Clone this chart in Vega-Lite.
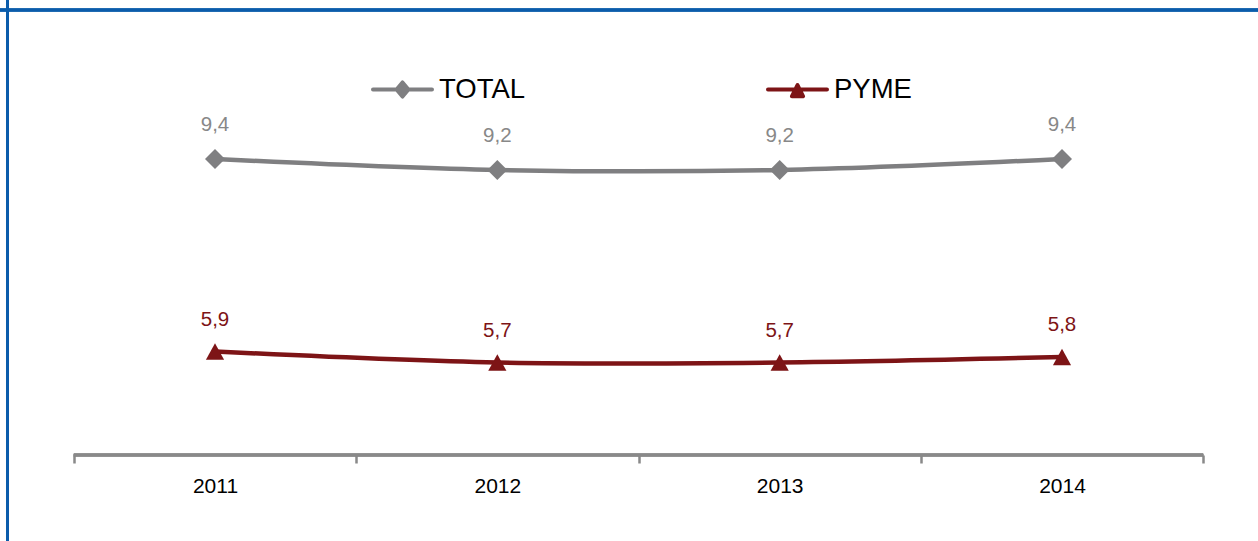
{
  "$schema": "https://vega.github.io/schema/vega-lite/v6.json",
  "width": 1258,
  "height": 455,
  "autosize": {"type": "none"},
  "padding": {"left": 0, "top": 0, "right": 0, "bottom": 86},
  "background": "white",
  "config": {
    "view": {"stroke": null},
    "locale": {"number": {"decimal": ",", "thousands": ".", "grouping": [3], "currency": ["", " €"]}},
    "font": "Liberation Sans"
  },
  "data": {
    "values": [
      {"year": 2011, "serie": "TOTAL", "value": 9.4},
      {"year": 2012, "serie": "TOTAL", "value": 9.2},
      {"year": 2013, "serie": "TOTAL", "value": 9.2},
      {"year": 2014, "serie": "TOTAL", "value": 9.4},
      {"year": 2011, "serie": "PYME", "value": 5.9},
      {"year": 2012, "serie": "PYME", "value": 5.7},
      {"year": 2013, "serie": "PYME", "value": 5.7},
      {"year": 2014, "serie": "PYME", "value": 5.8}
    ]
  },
  "layer": [
    {
      "mark": {"type": "rule", "color": "#0b5cab", "strokeWidth": 2.5},
      "encoding": {
        "x": {
          "datum": 2010.2651, "type": "quantitative",
          "scale": {"domain": [2010.2385, 2014.6942], "nice": false, "zero": false},
          "axis": {
            "title": null,
            "values": [2010.5, 2011, 2011.5, 2012, 2012.5, 2013, 2013.5, 2014, 2014.5],
            "domain": false,
            "grid": false,
            "tickSize": 8,
            "tickWidth": 2.5,
            "tickColor": "#898989",
            "tickOpacity": {"condition": {"test": "datum.value % 1 === 0", "value": 0}, "value": 1},
            "labelExpr": "datum.value % 1 === 0 ? '' + datum.value : ''",
            "labelFont": "Liberation Sans",
            "labelFontSize": 21,
            "labelColor": "#000000",
            "labelPadding": 12,
            "labelFlush": false,
            "labelOverlap": false
          }
        },
        "y": {"datum": 2.4545, "type": "quantitative", "scale": {"domain": [4.0182, 12.2909], "nice": false, "zero": false}, "axis": null},
        "y2": {"datum": 12.2909}
      }
    },
    {
      "mark": {"type": "rule", "color": "#0b5cab", "strokeWidth": 2.5},
      "encoding": {
        "y": {"datum": 12.109, "type": "quantitative"}
      }
    },
    {
      "mark": {"type": "rule", "color": "#898989", "strokeWidth": 2.5},
      "encoding": {
        "x": {"datum": 2010.5, "type": "quantitative"},
        "x2": {"datum": 2014.5},
        "y": {"datum": 4.0182, "type": "quantitative"}
      }
    },
    {
      "mark": {"type": "line", "interpolate": "catmull-rom", "strokeWidth": 4.5, "strokeCap": "round"},
      "encoding": {
        "x": {"field": "year", "type": "quantitative"},
        "y": {"field": "value", "type": "quantitative"},
        "color": {
          "field": "serie", "type": "nominal",
          "scale": {"domain": ["TOTAL", "PYME"], "range": ["#7f7f81", "#7d1416"]},
          "legend": {
            "title": null,
            "orient": "none",
            "legendX": 371,
            "legendY": 58,
            "direction": "horizontal",
            "padding": 0,
            "columnPadding": 240,
            "labelOffset": 5,
            "labelFont": "Liberation Sans",
            "labelFontSize": 27.5,
            "labelColor": "#000000",
            "symbolSize": 3481,
            "symbolStrokeWidth": 4,
            "encode": {
              "symbols": {
                "update": {
                  "shape": {"signal": "datum.value === 'TOTAL' ? 'M-1,0H1M0,-0.24L0.2,0L0,0.24L-0.2,0Z' : 'M-1,0H1M0,-0.15L0.19,0.23L-0.19,0.23Z'"},
                  "fill": {"signal": "scale('color', datum.value)"},
                  "stroke": {"signal": "scale('color', datum.value)"},
                  "strokeWidth": {"value": 4},
                  "strokeCap": {"value": "round"},
                  "strokeJoin": {"value": "round"},
                  "opacity": {"value": 1},
                  "fillOpacity": {"value": 1},
                  "strokeOpacity": {"value": 1}
                }
              }
            }
          }
        }
      }
    },
    {
      "transform": [{"filter": "datum.serie === 'TOTAL'"}],
      "mark": {"type": "point", "filled": true, "opacity": 1, "size": 400, "shape": "diamond", "color": "#7f7f81"},
      "encoding": {
        "x": {"field": "year", "type": "quantitative"},
        "y": {"field": "value", "type": "quantitative"}
      }
    },
    {
      "transform": [{"filter": "datum.serie === 'PYME'"}],
      "mark": {"type": "point", "filled": true, "opacity": 1, "size": 330, "shape": "M0,-0.9L1,0.9L-1,0.9Z", "color": "#7d1416"},
      "encoding": {
        "x": {"field": "year", "type": "quantitative"},
        "y": {"field": "value", "type": "quantitative"}
      }
    },
    {
      "transform": [{"filter": "datum.serie === 'TOTAL'"}],
      "mark": {"type": "text", "dy": -28, "baseline": "alphabetic", "fontSize": 20.5, "font": "Liberation Sans", "color": "#888888"},
      "encoding": {
        "x": {"field": "year", "type": "quantitative"},
        "y": {"field": "value", "type": "quantitative"},
        "text": {"field": "value", "type": "quantitative", "format": ".1f"}
      }
    },
    {
      "transform": [{"filter": "datum.serie === 'PYME'"}],
      "mark": {"type": "text", "dy": -26, "baseline": "alphabetic", "fontSize": 20.5, "font": "Liberation Sans", "color": "#7d1416"},
      "encoding": {
        "x": {"field": "year", "type": "quantitative"},
        "y": {"field": "value", "type": "quantitative"},
        "text": {"field": "value", "type": "quantitative", "format": ".1f"}
      }
    }
  ]
}
